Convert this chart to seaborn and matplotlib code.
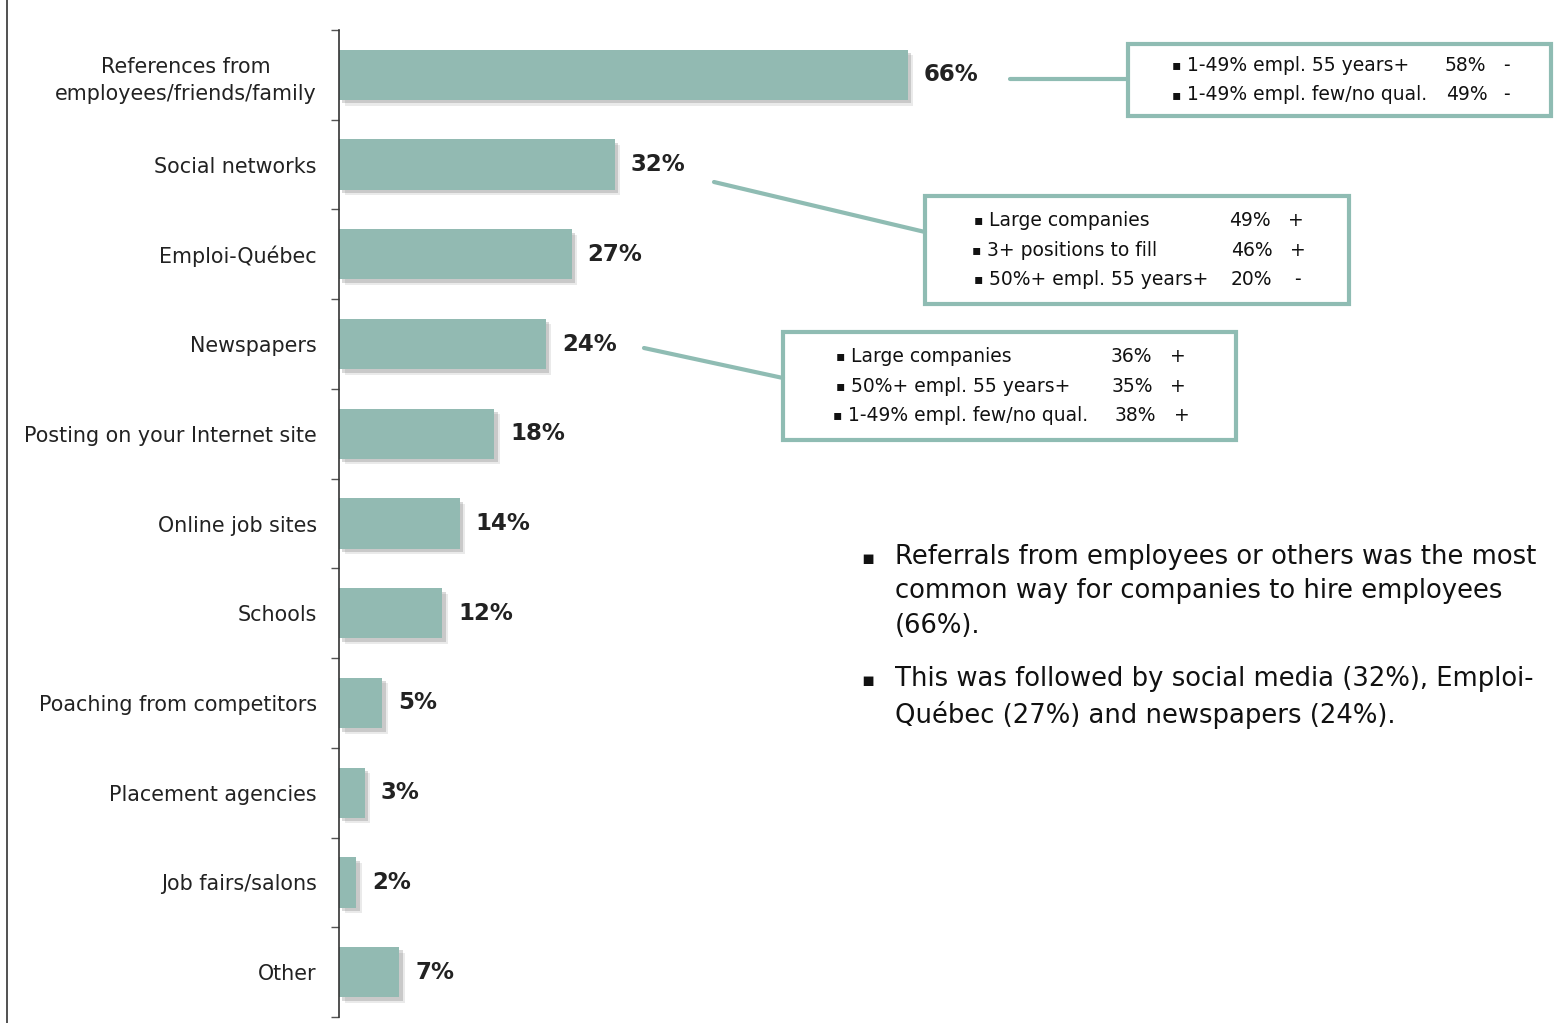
import matplotlib
matplotlib.use("Agg")
import matplotlib.pyplot as plt
import matplotlib.patheffects as pe
from matplotlib.lines import Line2D
from matplotlib.patches import Rectangle
import seaborn as sns
import pandas as pd

# Recruitment channels and share of companies using each
categories = [
    "References from\nemployees/friends/family",
    "Social networks",
    "Emploi-Québec",
    "Newspapers",
    "Posting on your Internet site",
    "Online job sites",
    "Schools",
    "Poaching from competitors",
    "Placement agencies",
    "Job fairs/salons",
    "Other",
]
values = [66, 32, 27, 24, 18, 14, 12, 5, 3, 2, 7]

# Segment breakdowns for the top channels: (segment, share, sign)
refs_segments = ["1-49% empl. 55 years+", "1-49% empl. few/no qual."]
refs_shares = [58, 49]
refs_signs = ["-", "-"]

social_segments = ["Large companies", "3+ positions to fill", "50%+ empl. 55 years+"]
social_shares = [49, 46, 20]
social_signs = ["+", "+", "-"]

news_segments = ["Large companies", "50%+ empl. 55 years+", "1-49% empl. few/no qual."]
news_shares = [36, 35, 38]
news_signs = ["+", "+", "+"]

notes = [
    "Referrals from employees or others was the most\ncommon way for companies to hire employees\n(66%).",
    "This was followed by social media (32%), Emploi-\nQuébec (27%) and newspapers (24%).",
]

W, H = 1555, 1023
BAR = "#92bab2"
EDGE = "#8fbcb3"

sns.set_theme(style="white")
plt.rcParams["font.family"] = ["DejaVu Sans"]

fig = plt.figure(figsize=(W / 100, H / 100), dpi=100)


def fx(x):
    return x / W


def fy(y):
    return 1 - y / H


ax_left, ax_top, ax_bottom = 339, 30, 1017
ax = fig.add_axes([fx(ax_left), fy(ax_bottom), (W - ax_left) / W, (ax_bottom - ax_top) / H])

df = pd.DataFrame({"channel": categories, "pct": values})
sns.barplot(data=df, y="channel", x="pct", color=BAR, width=0.56, saturation=1,
            orient="h", ax=ax)

shadow = [
    pe.SimplePatchShadow(offset=(4, -4), shadow_rgbFace="#555555", alpha=0.12),
    pe.SimplePatchShadow(offset=(2.5, -2.5), shadow_rgbFace="#555555", alpha=0.22),
    pe.Normal(),
]
for p in ax.patches:
    p.set_edgecolor("none")
    p.set_path_effects(shadow)

px_per_unit = 8.62
ax.set_xlim(0, (W - ax_left) / px_per_unit)
ax.set_ylim(len(categories) - 0.5, -0.5)

for i, v in enumerate(values):
    ax.text(v + 16 / px_per_unit, i, f"{v}%", va="center", ha="left",
            fontsize=16.5, fontweight="bold", color="#222222")

sns.despine(ax=ax, left=False, bottom=True, top=True, right=True)
ax.spines["left"].set_color("#333333")
ax.spines["left"].set_linewidth(1.2)
ax.set_xlabel("")
ax.set_ylabel("")
ax.set_xticks([])
ax.set_yticks(range(len(categories)))
ax.set_yticklabels(categories, fontsize=14.9, color="#222222", linespacing=1.45)
ax.tick_params(axis="y", which="major", length=0, pad=16)
ax.set_yticks([i - 0.5 for i in range(len(categories) + 1)], minor=True)
ax.tick_params(axis="y", which="minor", length=6, width=1, color="#555555", left=True)
for lbl in ax.get_yticklabels():
    lbl.set_multialignment("center")

# frame line on the far left
fig.add_artist(Line2D([fx(7), fx(7)], [0, 1], color="#333333", lw=1.2))


def callout(x0, y0, x1, y1, segs, shares, signs, col_seg, col_val, col_sign, line_from, line_to):
    fig.add_artist(Rectangle((fx(x0), fy(y1)), (x1 - x0) / W, (y1 - y0) / H,
                             transform=fig.transFigure, fill=True, facecolor="white",
                             edgecolor=EDGE, lw=3))
    fig.add_artist(Line2D([fx(line_from[0]), fx(line_to[0])],
                          [fy(line_from[1]), fy(line_to[1])], color=EDGE, lw=3))
    n = len(segs)
    pitch = 29.5
    ymid = (y0 + y1) / 2
    for k in range(n):
        yy = ymid + (k - (n - 1) / 2) * pitch
        fig.text(fx(col_seg[k] - 15), fy(yy), "▪", fontsize=10, va="center", ha="left", color="#111111")
        fig.text(fx(col_seg[k]), fy(yy), segs[k], fontsize=13.5, va="center", ha="left", color="#111111")
        fig.text(fx(col_val[k]), fy(yy), f"{shares[k]}%", fontsize=13.5, va="center", ha="left", color="#111111")
        fig.text(fx(col_sign[k]), fy(yy), signs[k], fontsize=13.5, va="center", ha="left", color="#111111")


callout(1128, 44, 1551, 116, refs_segments, refs_shares, refs_signs,
        [1187, 1187], [1445, 1446], [1503, 1503], (1010, 79), (1128, 79))
callout(925, 196, 1349, 304, social_segments, social_shares, social_signs,
        [989, 987, 989], [1229, 1231, 1231], [1288, 1290, 1294], (714, 182), (925, 232))
callout(783, 332, 1236, 440, news_segments, news_shares, news_signs,
        [851, 851, 848], [1111, 1112, 1115], [1170, 1170, 1174], (644, 348), (783, 378))

# summary bullets
for txt, y in zip(notes, [559, 681]):
    fig.text(fx(861), fy(y), "▪", fontsize=14, va="center", ha="left", color="#111111")
    fig.text(fx(895), fy(y - 15), txt, fontsize=18.6, va="top", ha="left",
             color="#111111", linespacing=1.42)

fig.savefig("out.png", dpi=100, facecolor="white")
